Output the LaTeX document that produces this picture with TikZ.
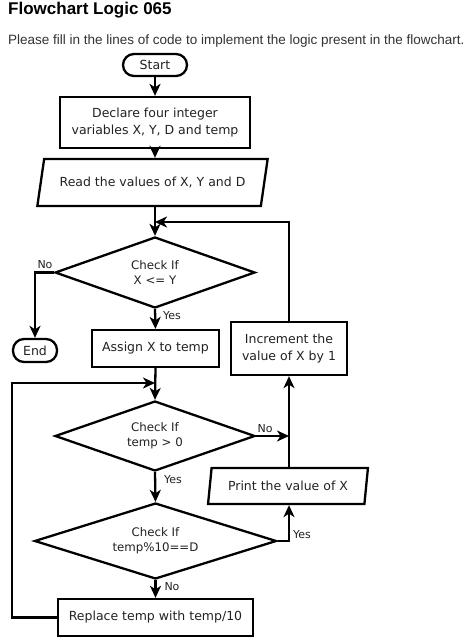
\documentclass[tikz,border=0pt]{standalone}
\usepackage{fontspec}
\setmainfont{DejaVu Sans}
\newfontfamily\titlefont{Liberation Sans}
\usetikzlibrary{shapes.geometric,arrows.meta}
\definecolor{txt}{HTML}{222222}
\tikzset{
  base/.style={draw=black, line width=2.3pt, text=txt, inner sep=0pt, align=center,
    font=\fontsize{12.5}{17}\selectfont},
  term/.style={base, rounded corners=11pt},
  box/.style={base, rectangle},
  dec/.style={base, diamond, aspect=3, font=\fontsize{11.8}{15}\selectfont},
  io/.style={base, trapezium, trapezium stretches=true},
  conn/.style={line width=2.3pt, -{Stealth[length=12pt,width=11pt,inset=3.5pt]}},
  lbl/.style={text=txt, inner sep=0pt, font=\fontsize{11}{13}\selectfont},
}
\begin{document}
\begin{tikzpicture}[x=1pt,y=-1pt]
\useasboundingbox (0,0) rectangle (474,641);
\fill[white] (0,0) rectangle (474,641);
% heading
\node[anchor=base west, inner sep=0pt, font=\titlefont\bfseries\fontsize{17}{20}\selectfont] (title) at (8,14) {Flowchart Logic 065};
\node[anchor=base west, inner sep=0pt, text=black!80, font=\titlefont\fontsize{13.5}{16}\selectfont] (sub) at (8,44) {Please fill in the lines of code to implement the logic present in the flowchart.};
% nodes
\node[term, minimum width=64pt, minimum height=22pt] (start) at (155,65) {Start};
\node[box, minimum width=190pt, minimum height=51pt] (decl) at (155,122.5) {Declare four integer\\variables X, Y, D and temp};
\node[io, trapezium left angle=62, trapezium right angle=118, minimum width=231pt, minimum height=47pt] (read) at (152.5,182.5) {Read the values of X, Y and D};
\node[dec, minimum width=200pt, minimum height=71pt] (d1) at (155,272.5) {Check If\\X <= Y};
\node[term, minimum width=44pt, minimum height=23pt] (endn) at (35,350.5) {End};
\node[box, minimum width=127pt, minimum height=37pt] (assign) at (155.5,348.5) {Assign X to temp};
\node[box, minimum width=116pt, minimum height=53pt] (incr) at (289,348.5) {Increment the\\value of X by 1};
\node[dec, minimum width=200pt, minimum height=70pt] (d2) at (155,436) {Check If\\temp > 0};
\node[io, trapezium left angle=74, trapezium right angle=106, minimum width=160pt, minimum height=36pt] (print) at (288,486) {Print the value of X};
\node[dec, minimum width=242pt, minimum height=76pt] (d3) at (155.5,541) {Check If\\temp\%10==D};
\node[box, minimum width=195pt, minimum height=37pt] (repl) at (155.5,617.5) {Replace temp with temp/10};
\coordinate (j1) at (155,222);
\coordinate (j2) at (155,383);
\coordinate (lx) at (12,617.5);
% connectors
\draw[conn] (start) -- (decl);
\draw[conn] (decl.south) -- (decl.south |- read.north);
\draw[conn] (d1.north |- read.south) -- (d1.north);
\draw[conn] (incr.north) |- (j1);
\draw[conn] (d1.west) -| (endn.north);
\draw[conn] (d1.south) -- (assign.north);
\draw[conn] (assign.south) -- (d2.north);
\draw[conn] (d2.east) -- (incr.south |- d2.east);
\draw[conn] (print.north -| incr.south) -- (incr.south);
\draw[conn] (d2.south) -- (d3.north);
\draw[conn] (d3.east) -| (print.south -| incr.south);
\draw[conn] (d3.south) -- (repl.north);
\draw[conn] (repl.west) -- (lx) |- (j2);
% labels
\node[lbl] (no1) at (45,265) {No};
\node[lbl] (yes1) at (172,316) {Yes};
\node[lbl] (no2) at (265,429) {No};
\node[lbl] (yes2) at (173,480) {Yes};
\node[lbl] (yes3) at (302,535) {Yes};
\node[lbl] (no3) at (172,587) {No};
\end{tikzpicture}
\end{document}
